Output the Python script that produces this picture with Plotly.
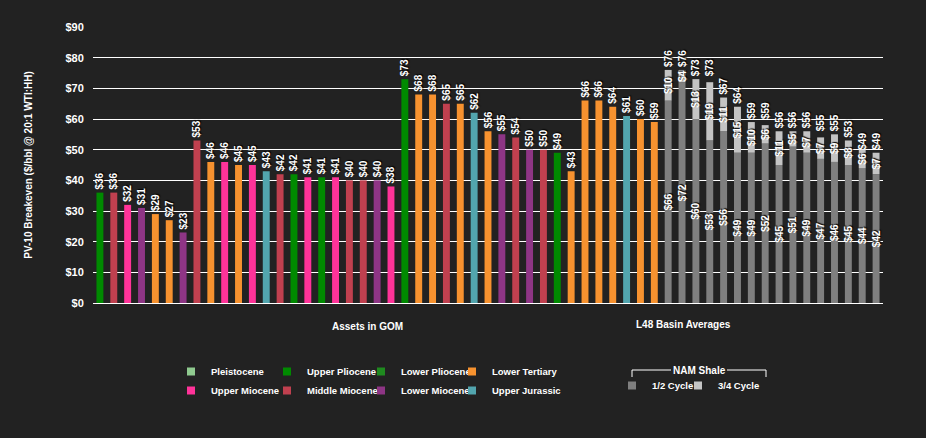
import plotly.graph_objects as go

# ---------------- data ----------------
gom_values = [36, 36, 32, 31, 29, 27, 23, 53, 46, 46, 45, 45, 43, 42, 42, 41, 41, 41, 40, 40, 40, 38,
              73, 68, 68, 65, 65, 62, 56, 55, 54, 50, 50, 49, 43, 66, 66, 64, 61, 60, 59]
gom_formation = ['Upper Pliocene', 'Middle Miocene', 'Upper Miocene', 'Lower Miocene', 'Lower Tertiary',
                 'Lower Tertiary', 'Lower Miocene', 'Middle Miocene', 'Lower Tertiary', 'Upper Miocene',
                 'Lower Tertiary', 'Upper Miocene', 'Upper Jurassic', 'Middle Miocene', 'Upper Pliocene',
                 'Upper Miocene', 'Upper Pliocene', 'Upper Miocene', 'Middle Miocene', 'Middle Miocene',
                 'Lower Miocene', 'Upper Miocene', 'Upper Pliocene', 'Lower Tertiary', 'Lower Tertiary',
                 'Middle Miocene', 'Lower Tertiary', 'Upper Jurassic', 'Lower Tertiary', 'Lower Miocene',
                 'Middle Miocene', 'Lower Miocene', 'Middle Miocene', 'Upper Pliocene', 'Lower Tertiary',
                 'Lower Tertiary', 'Lower Tertiary', 'Lower Tertiary', 'Upper Jurassic', 'Lower Tertiary',
                 'Lower Tertiary']

l48_half_cycle = [66, 72, 60, 53, 56, 49, 49, 52, 45, 51, 49, 47, 46, 45, 44, 42]
l48_three_quarter_incr = [10, 4, 13, 19, 11, 15, 10, 6, 11, 5, 7, 7, 9, 8, 6, 7]
l48_total = [76, 76, 73, 73, 67, 64, 59, 59, 56, 56, 56, 55, 55, 53, 49, 49]

group_labels = ['Assets in GOM', 'L48 Basin Averages']
y_ticks = [0, 10, 20, 30, 40, 50, 60, 70, 80, 90]
y_tick_labels = ['$' + str(v) for v in y_ticks]

legend_columns = [['Pleistocene', 'Upper Miocene'],
                  ['Upper Pliocene', 'Middle Miocene'],
                  ['Lower Pliocene', 'Lower Miocene'],
                  ['Lower Tertiary', 'Upper Jurassic']]
nam_items = ['1/2 Cycle', '3/4 Cycle']

# ---------------- styles ----------------
colors = {
    'Pleistocene': '#8fca8f',
    'Upper Pliocene': '#008a00',
    'Lower Pliocene': '#1f8a1f',
    'Lower Tertiary': '#f7922f',
    'Upper Miocene': '#ff3399',
    'Middle Miocene': '#c0404f',
    'Lower Miocene': '#8e3585',
    'Upper Jurassic': '#52a5ae',
    '1/2 Cycle': '#7f7f7f',
    '3/4 Cycle': '#c4c4c4',
}
BG = '#222222'
FONT = 'Liberation Sans, Arial, sans-serif'
label_font = dict(family=FONT, size=10, color='white', weight='bold', shadow='1px 1px 1px #000')

# plot area in pixels
L, R, T, B = 93, 883, 27, 303
W, H = 926, 438


def px_x(p):
    return (p - L) / (R - L)


def px_y(p):
    return (B - p) / (B - T)


fig = go.Figure()

n_gom = len(gom_values)
n_l48 = len(l48_half_cycle)
gom_x = list(range(n_gom))
l48_x = list(range(n_gom, n_gom + n_l48))

bar_w = 0.5
formations = []
for f in gom_formation:
    if f not in formations:
        formations.append(f)
for f in formations:
    ys = [v if gf == f else None for v, gf in zip(gom_values, gom_formation)]
    txt = ['$' + str(v) if gf == f else '' for v, gf in zip(gom_values, gom_formation)]
    fig.add_trace(go.Bar(x=gom_x, y=ys, width=bar_w, marker=dict(color=colors[f], line_width=0),
                         text=txt, textposition='outside', textangle=-90, cliponaxis=False,
                         outsidetextfont=label_font, constraintext='none',
                         showlegend=False, hoverinfo='skip', name=f))

# L48 stacked bars
fig.add_trace(go.Bar(x=l48_x, y=l48_half_cycle, width=bar_w,
                     marker=dict(color=colors['1/2 Cycle'], line_width=0),
                     text=['$' + str(v) for v in l48_half_cycle], textposition='inside',
                     insidetextanchor='middle', textangle=-90, insidetextfont=label_font,
                     constraintext='none', showlegend=False, hoverinfo='skip', name='1/2 Cycle'))
fig.add_trace(go.Bar(x=l48_x, y=l48_three_quarter_incr, base=l48_half_cycle, width=bar_w,
                     marker=dict(color=colors['3/4 Cycle'], line_width=0),
                     text=['$' + str(v) for v in l48_three_quarter_incr], textposition='inside',
                     insidetextanchor='middle', textangle=-90, insidetextfont=label_font,
                     constraintext='none', showlegend=False, hoverinfo='skip', name='3/4 Cycle'))
fig.add_trace(go.Bar(x=l48_x, y=l48_total, width=bar_w,
                     marker=dict(color='rgba(0,0,0,0)', line_width=0),
                     text=['$' + str(v) for v in l48_total], textposition='outside',
                     textangle=-90, outsidetextfont=label_font, cliponaxis=False,
                     constraintext='none', showlegend=False, hoverinfo='skip', name='Total'))

# legend entries
legend_font = dict(family=FONT, size=9.5, color='white', weight='bold')
col_text_x = [211, 307, 401, 492]
layout_legends = {}
k = 1
for ci, col in enumerate(legend_columns):
    key = 'legend' if k == 1 else 'legend%d' % k
    for name in col:
        fig.add_trace(go.Scatter(x=[None], y=[None], mode='markers', name=name,
                                 marker=dict(symbol='square', size=8, color=colors[name]),
                                 legend=key, showlegend=True))
    layout_legends[key] = dict(x=px_x(col_text_x[ci] - 40), xanchor='left', y=px_y(357), yanchor='top',
                               orientation='v', bgcolor='rgba(0,0,0,0)', font=legend_font,
                               itemsizing='trace', tracegroupgap=0)
    k += 1

nam_text_x = [652, 718]
for ni, name in enumerate(nam_items):
    key = 'legend%d' % k
    fig.add_trace(go.Scatter(x=[None], y=[None], mode='markers', name=name,
                             marker=dict(symbol='square', size=8, color=colors[name]),
                             legend=key, showlegend=True))
    layout_legends[key] = dict(x=px_x(nam_text_x[ni] - 40), xanchor='left', y=px_y(371), yanchor='top',
                               orientation='v', bgcolor='rgba(0,0,0,0)', font=legend_font,
                               itemsizing='trace')
    k += 1

# group labels on x axis
gom_center_px = 367
l48_center_px = 683
ann_font = dict(family=FONT, size=10, color='white', weight='bold')
annotations = [
    dict(text=group_labels[0], x=px_x(gom_center_px), y=px_y(326), xref='paper', yref='paper',
         xanchor='center', yanchor='middle', showarrow=False, font=ann_font),
    dict(text=group_labels[1], x=px_x(l48_center_px), y=px_y(324), xref='paper', yref='paper',
         xanchor='center', yanchor='middle', showarrow=False, font=ann_font),
    dict(text='NAM Shale', x=px_x(699), y=px_y(370), xref='paper', yref='paper',
         xanchor='center', yanchor='middle', showarrow=False, font=ann_font),
]

# bracket for NAM Shale legend group
bx0, bx1, by, bt = 632, 766, 370, 377
line_style = dict(color='white', width=1)
shapes = [
    dict(type='line', xref='paper', yref='paper', x0=px_x(bx0), x1=px_x(671), y0=px_y(by), y1=px_y(by), line=line_style),
    dict(type='line', xref='paper', yref='paper', x0=px_x(727), x1=px_x(bx1), y0=px_y(by), y1=px_y(by), line=line_style),
    dict(type='line', xref='paper', yref='paper', x0=px_x(bx0), x1=px_x(bx0), y0=px_y(by), y1=px_y(bt), line=line_style),
    dict(type='line', xref='paper', yref='paper', x0=px_x(bx1), x1=px_x(bx1), y0=px_y(by), y1=px_y(bt), line=line_style),
]

fig.update_layout(
    width=W, height=H,
    margin=dict(l=L, r=W - R, t=T, b=H - B, autoexpand=False),
    paper_bgcolor=BG, plot_bgcolor=BG,
    barmode='overlay',
    font=dict(family=FONT, color='white'),
    annotations=annotations,
    shapes=shapes,
    xaxis=dict(range=[-0.5, n_gom + n_l48 - 0.5], showticklabels=False, showgrid=False,
               zeroline=False, showline=False, ticks='', fixedrange=True),
    yaxis=dict(range=[0, 90], tickvals=y_ticks, ticktext=y_tick_labels, showgrid=True,
               gridcolor='white', gridwidth=1, zeroline=True, zerolinecolor='white', zerolinewidth=1,
               showline=False, ticks='outside', ticklen=6, tickcolor=BG,
               tickfont=dict(family=FONT, size=11, color='white', weight='bold'),
               title=dict(text='PV-10 Breakeven ($/bbl @ 20:1 WTI:HH)', standoff=30,
                          font=dict(family=FONT, size=10, color='white', weight='bold')),
               automargin=False),
    **layout_legends,
)

fig.write_html('out.html', config={'displayModeBar': False},
               post_script="document.body.style.margin='0';document.body.style.background='#222222';"
                           "document.documentElement.style.overflow='hidden';")
